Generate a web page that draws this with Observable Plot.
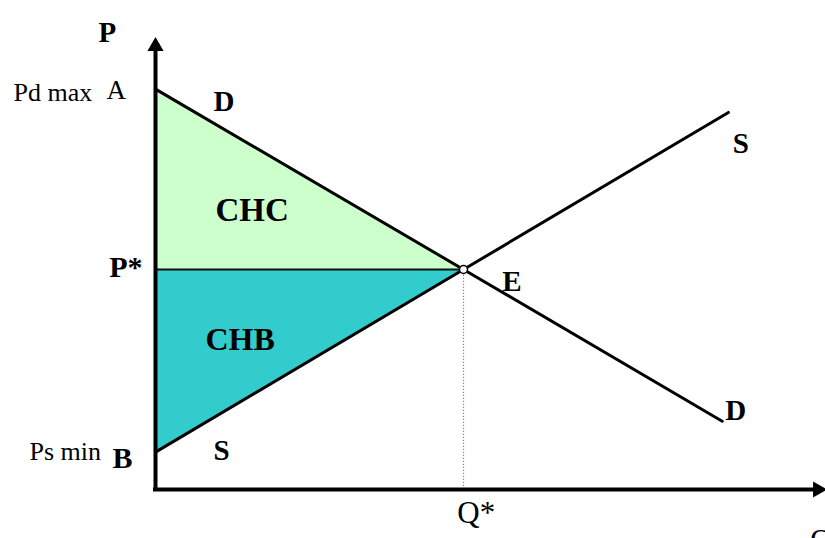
<!DOCTYPE html>
<html>
<head>
<meta charset="utf-8">
<script src="https://cdn.jsdelivr.net/npm/d3@7"></script>
<script src="https://cdn.jsdelivr.net/npm/@observablehq/plot@0.6"></script>
<style>
  html, body { margin: 0; padding: 0; background: #fff; overflow: hidden; }
</style>
</head>
<body>
<div id="chart"></div>
<script>
// ---- data (quantity Q, price P in arbitrary units) ----
const qStar = 5;
const pStar = 5;
const demandQ = [0, 5, 9.2];
const demandP = [9.1, 5, 1.55];
const supplyQ = [0, 5, 9.3];
const supplyP = [0.85, 5, 8.57];
const axisQmax = 10.75;
const axisPmax = 10.07;

// labels
const priceNames = ["Pd max", "Ps min"];
const pointLetters = ["A", "B"];
const areaNames = ["CHC", "CHB"];

const demand = demandQ.map((q, i) => ({q, p: demandP[i]}));
const supply = supplyQ.map((q, i) => ({q, p: supplyP[i]}));
const chc = [{q: 0, lo: pStar, hi: demandP[0]}, {q: qStar, lo: pStar, hi: pStar}];
const chb = [{q: 0, lo: supplyP[0], hi: pStar}, {q: qStar, lo: pStar, hi: pStar}];

const serif = "Liberation Serif, Times New Roman, serif";
const bold = (data, opts) => Plot.text(data, {fontFamily: serif, fontWeight: "bold", lineAnchor: "bottom", fill: "#000", ...opts});
const reg = (data, opts) => Plot.text(data, {fontFamily: serif, fontWeight: "normal", lineAnchor: "bottom", fill: "#000", ...opts});

const chart = Plot.plot({
  width: 825,
  height: 538,
  marginLeft: 155,
  marginRight: 54,
  marginTop: 49,
  marginBottom: 49,
  x: {domain: [0, 10], axis: null},
  y: {domain: [0, 10], axis: null},
  style: {background: "#fff"},
  marks: [
    Plot.areaY(chc, {x: "q", y1: "lo", y2: "hi", fill: "#ccffcc", fillOpacity: 1}),
    Plot.areaY(chb, {x: "q", y1: "lo", y2: "hi", fill: "#33cccc", fillOpacity: 1}),
    Plot.ruleY([pStar], {x1: 0, x2: qStar, stroke: "#111", strokeWidth: 2}),
    Plot.ruleX([qStar], {y1: 0, y2: pStar, stroke: "#888", strokeWidth: 1.2, strokeDasharray: "1.2,1.8"}),
    Plot.line(demand, {x: "q", y: "p", stroke: "#000", strokeWidth: 3}),
    Plot.line(supply, {x: "q", y: "p", stroke: "#000", strokeWidth: 3}),
    // axes
    Plot.ruleX([0], {y1: 0, y2: axisPmax, stroke: "#000", strokeWidth: 4, strokeLinecap: "square"}),
    Plot.ruleY([0], {x1: 0, x2: axisQmax, stroke: "#000", strokeWidth: 4, strokeLinecap: "square"}),
    Plot.dot([{q: 0, p: axisPmax}], {x: "q", y: "p", symbol: "triangle", r: 6, fill: "#000", stroke: null}),
    Plot.dot([{q: axisQmax, p: 0}], {x: "q", y: "p", symbol: "triangle", r: 6, rotate: 90, fill: "#000", stroke: null}),
    // equilibrium
    Plot.dot([{q: qStar, p: pStar}], {x: "q", y: "p", r: 4, fill: "#fff", stroke: "#000", strokeWidth: 1.5}),
    // axis titles
    bold([{t: "P"}], {x: () => -0.78, y: () => 10.16, text: "t", textAnchor: "middle", fontSize: 29}),
    reg([{t: "Q"}], {x: () => 10.63, y: () => -1.36, text: "t", textAnchor: "start", fontSize: 30}),
    // price labels
    reg([{t: priceNames[0]}], {x: () => -2.305, y: () => 8.84, text: "t", textAnchor: "start", fontSize: 26}),
    reg([{t: pointLetters[0]}], {x: () => -0.795, y: () => 8.886, text: "t", textAnchor: "start", fontSize: 27}),
    bold([{t: "P*"}], {x: () => -0.21, y: () => 4.84, text: "t", textAnchor: "end", fontSize: 30}),
    reg([{t: priceNames[1]}], {x: () => -2.045, y: () => 0.68, text: "t", textAnchor: "start", fontSize: 26}),
    bold([{t: pointLetters[1]}], {x: () => -0.70, y: () => 0.48, text: "t", textAnchor: "start", fontSize: 30}),
    // curve labels
    bold([{t: "D"}], {x: () => 0.94, y: () => 8.61, text: "t", textAnchor: "start", fontSize: 29}),
    bold([{t: "S"}], {x: () => 0.94, y: () => 0.66, text: "t", textAnchor: "start", fontSize: 29}),
    bold([{t: "S"}], {x: () => 9.37, y: () => 7.64, text: "t", textAnchor: "start", fontSize: 29}),
    bold([{t: "D"}], {x: () => 9.25, y: () => 1.59, text: "t", textAnchor: "start", fontSize: 29}),
    bold([{t: "E"}], {x: () => 5.63, y: () => 4.52, text: "t", textAnchor: "start", fontSize: 29}),
    // surplus areas
    bold([{t: areaNames[0]}], {x: () => 0.974, y: () => 6.11, text: "t", textAnchor: "start", fontSize: 33}),
    bold([{t: areaNames[1]}], {x: () => 0.81, y: () => 3.16, text: "t", textAnchor: "start", fontSize: 32}),
    // Q*
    reg([{t: "Q*"}], {x: () => 4.90, y: () => -0.75, text: "t", textAnchor: "start", fontSize: 31})
  ]
});
document.getElementById("chart").appendChild(chart);
</script>
</body>
</html>
